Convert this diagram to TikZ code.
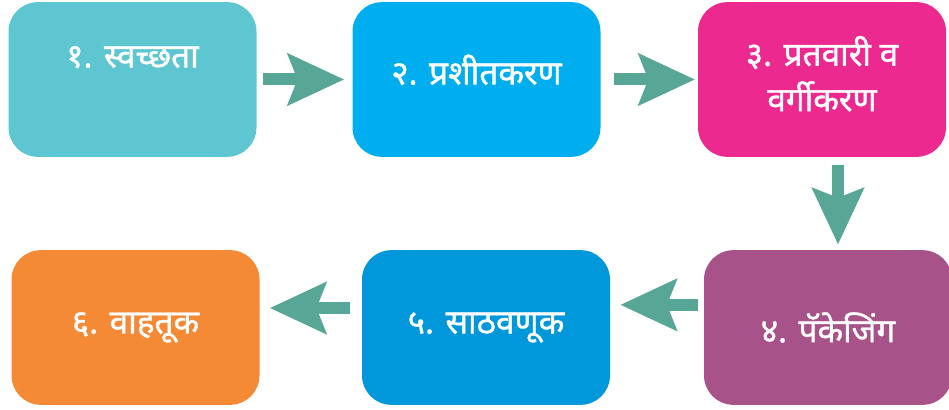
\documentclass[tikz,border=0pt]{standalone}
\usepackage{fontspec}
\newfontfamily\devfont[Script=Devanagari, AutoFakeBold=1.2]{Noto Sans}
\usetikzlibrary{arrows.meta}

\definecolor{arrowgreen}{RGB}{88,166,149}
\definecolor{cleanc}{RGB}{94,198,208}
\definecolor{coolc}{RGB}{0,174,239}
\definecolor{gradec}{RGB}{236,41,142}
\definecolor{packc}{RGB}{167,82,136}
\definecolor{storec}{RGB}{0,152,218}
\definecolor{transc}{RGB}{245,138,54}

\begin{document}
\begin{tikzpicture}[x=0.75pt,y=0.75pt,yscale=-1,xscale=1,
  stepbox/.style={rounded corners=22pt, minimum width=186pt, minimum height=116pt, inner sep=0pt, text=white, align=center, font=\devfont\bfseries\fontsize{25}{34}\selectfont},
  flow/.style={draw=arrowgreen, line width=9pt, -{Stealth[length=42pt,width=38pt,inset=7pt]}}]
\useasboundingbox (0,0) rectangle (949,410);

%Boxes, top row
\node [stepbox, fill=cleanc] (clean) at (132.5,79.5) {१. स्वच्छता\\\mbox{}};
\node [stepbox, fill=coolc] (cool) at (476.5,79.5) {२. प्रशीतकरण\\[-19pt]\mbox{}};
\node [stepbox, fill=gradec] (grade) at (822,79.5) {३. प्रतवारी व\\वर्गीकरण\\[-25pt]\mbox{}};
%Boxes, bottom row
\node [stepbox, fill=packc] (pack) at (828,327.5) {४. पॅकेजिंग};
\node [stepbox, fill=storec] (store) at (486,327.5) {५. साठवणूक};
\node [stepbox, fill=transc] (trans) at (135.5,327.5) {६. वाहतूक};

%Arrows
\draw [flow, shorten <=5pt, shorten >=6pt] (clean) -- (cool);
\draw [flow, shorten <=10pt, shorten >=2pt] (cool) -- (grade);
\draw [flow, shorten <=6pt, shorten >=4pt] ([xshift=12pt]grade.south) -- ([xshift=7.5pt]pack.north);
\draw [flow, shorten <=4pt, shorten >=7.5pt] ([yshift=-17pt]pack.west) -- ([yshift=-17pt]store.east);
\draw [flow, shorten <=9pt, shorten >=7.5pt] ([yshift=-14.6pt]store.west) -- ([yshift=-14.6pt]trans.east);
\end{tikzpicture}
\end{document}
